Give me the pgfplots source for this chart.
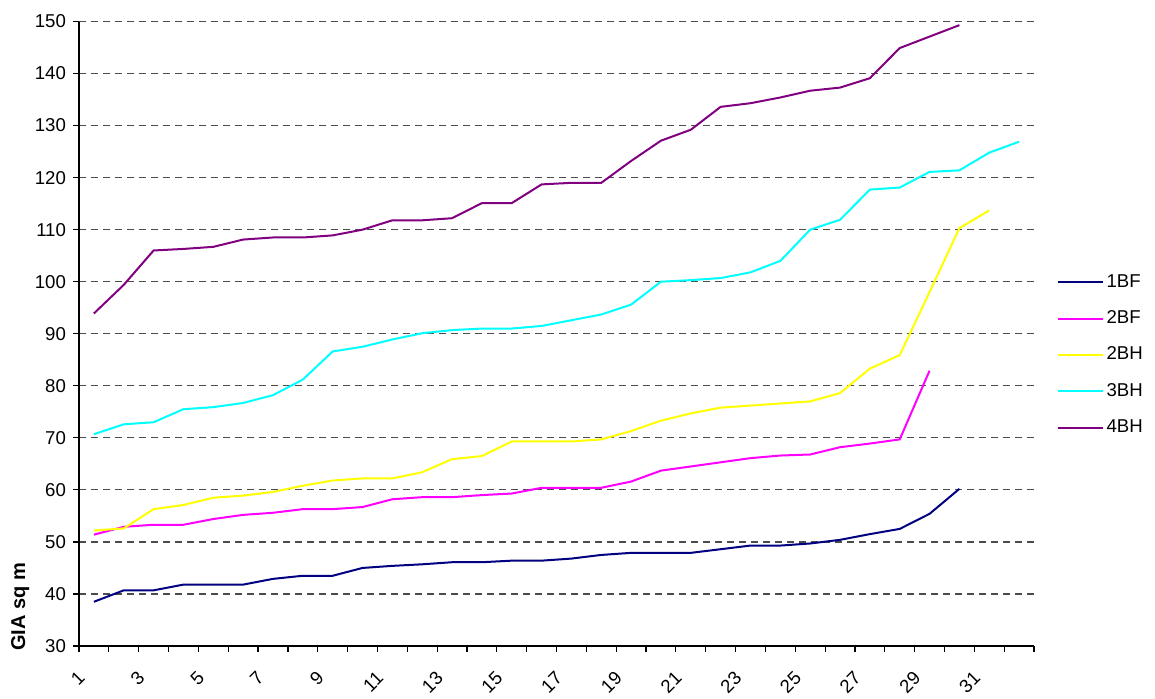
\documentclass[border=0pt]{standalone}
\usepackage{pgfplots}
\pgfplotsset{compat=1.18}
\usepackage{pgfplotstable}
\usepackage{fontspec}
\setmainfont{Liberation Sans}
\definecolor{cA}{RGB}{0,0,128}
\definecolor{cB}{RGB}{255,0,255}
\definecolor{cC}{RGB}{255,255,0}
\definecolor{cD}{RGB}{0,255,255}
\definecolor{cE}{RGB}{128,0,128}
\pgfplotstableread[row sep=\\]{y\\38.5\\40.7\\40.7\\41.8\\41.8\\41.8\\42.9\\43.5\\43.5\\45.0\\45.4\\45.7\\46.1\\46.1\\46.4\\46.4\\46.8\\47.5\\47.9\\47.9\\47.9\\48.6\\49.3\\49.3\\49.7\\50.4\\51.5\\52.5\\55.4\\60.2\\}\tA
\pgfplotstableread[row sep=\\]{y\\51.4\\52.9\\53.3\\53.3\\54.4\\55.2\\55.6\\56.3\\56.3\\56.7\\58.2\\58.6\\58.6\\59.0\\59.3\\60.4\\60.4\\60.4\\61.6\\63.7\\64.5\\65.3\\66.1\\66.6\\66.8\\68.2\\68.9\\69.7\\82.9\\}\tB
\pgfplotstableread[row sep=\\]{y\\52.2\\52.6\\56.3\\57.1\\58.5\\58.9\\59.6\\60.8\\61.8\\62.2\\62.2\\63.4\\65.9\\66.5\\69.3\\69.3\\69.3\\69.7\\71.3\\73.3\\74.7\\75.8\\76.2\\76.6\\77.0\\78.6\\83.3\\85.9\\98.0\\110.3\\113.7\\}\tC
\pgfplotstableread[row sep=\\]{y\\70.7\\72.6\\73.0\\75.5\\75.9\\76.7\\78.2\\81.2\\86.6\\87.5\\88.9\\90.1\\90.7\\91.0\\91.0\\91.5\\92.6\\93.7\\95.6\\100.0\\100.3\\100.7\\101.8\\104.0\\110.0\\111.9\\117.7\\118.1\\121.1\\121.4\\124.8\\126.9\\}\tD
\pgfplotstableread[row sep=\\]{y\\93.9\\99.4\\106.0\\106.3\\106.7\\108.1\\108.5\\108.5\\108.9\\110.0\\111.8\\111.8\\112.2\\115.1\\115.1\\118.7\\119.0\\119.0\\123.2\\127.1\\129.2\\133.6\\134.3\\135.4\\136.7\\137.3\\139.1\\144.9\\147.1\\149.3\\}\tE
\begin{document}
\begin{tikzpicture}
\begin{axis}[
  name=ax,
  scale only axis,
  width=477.5pt, height=312.25pt,
  xmin=0.5, xmax=32.5,
  ymin=30, ymax=150,
  ytick={30,40,...,150},
  xtick={0.5,1.5,...,32.5},
  xticklabels={},
  extra x ticks={1,3,...,31},
  extra x tick labels={1,3,5,7,9,11,13,15,17,19,21,23,25,27,29,31},
  extra x tick style={major tick length=0pt, grid=none},
  tick align=outside,
  major tick length=3pt,
  axis x line*=bottom,
  axis y line*=left,
  axis line style={line width=0.6pt},
  every tick/.style={black, line width=0.6pt},
  ymajorgrids,
  grid style={black!70, dash pattern=on 3.5pt off 2.5pt, line width=0.6pt},
  /pgf/number format/assume math mode=true,
  tick label style={font=\fontsize{9.3}{11}\selectfont},
  xticklabel style={xshift=-8.5pt, yshift=-7.2pt, rotate=45, anchor=north east},
  ylabel={\textbf{GIA sq m}},
  ylabel style={font=\fontsize{10}{12}\selectfont, at={(ticklabel cs:0.063)}, yshift=-4pt},
  legend style={draw=none, fill=none, at={(1.017,0.466)}, anchor=west,
    font=\fontsize{9.3}{11}\selectfont, row sep=7.25pt,
    nodes={inner sep=1.5pt}},
  legend cell align=left,
  legend image code/.code={\draw[#1] (0pt,0pt) -- (22.5pt,0pt);},
]
\addplot[cA, line width=1pt] table[x expr=\coordindex+1, y=y]{\tA};
\addlegendentry{1BF}
\addplot[cB, line width=1pt] table[x expr=\coordindex+1, y=y]{\tB};
\addlegendentry{2BF}
\addplot[cC, line width=1pt] table[x expr=\coordindex+1, y=y]{\tC};
\addlegendentry{2BH}
\addplot[cD, line width=1pt] table[x expr=\coordindex+1, y=y]{\tD};
\addlegendentry{3BH}
\addplot[cE, line width=1pt] table[x expr=\coordindex+1, y=y]{\tE};
\addlegendentry{4BH}
\end{axis}
\pgfresetboundingbox
\path[use as bounding box] ([shift={(-39.5pt,-26pt)}]ax.south west) rectangle ([shift={(60.5pt,10.75pt)}]ax.north east);
\end{tikzpicture}
\end{document}
